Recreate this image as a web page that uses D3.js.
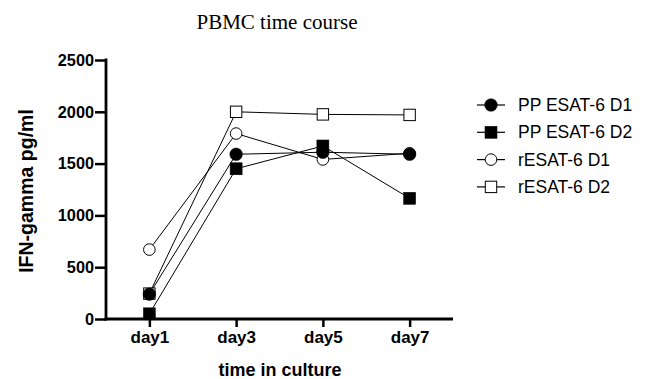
<!DOCTYPE html>
<html><head><meta charset="utf-8">
<script src="https://cdn.jsdelivr.net/npm/d3@7"></script>
<style>body{margin:0;background:#fff}svg{display:block}</style>
</head><body>
<svg id="c" width="654" height="379"></svg>
<script>
const days = ["day1","day3","day5","day7"];
const yTicks = [0,500,1000,1500,2000,2500];
const seriesNames = ["PP ESAT-6 D1","PP ESAT-6 D2","rESAT-6 D1","rESAT-6 D2"];
const ppD1 = [240,1590,1610,1590];
const ppD2 = [50,1450,1670,1165];
const rD1 = [670,1790,1540,1600];
const rD2 = [245,2000,1975,1970];

const series = [
  {name: seriesNames[0], values: ppD1, shape: "circle", fill: "#000"},
  {name: seriesNames[1], values: ppD2, shape: "square", fill: "#000"},
  {name: seriesNames[2], values: rD1, shape: "circle", fill: "#fff"},
  {name: seriesNames[3], values: rD2, shape: "square", fill: "#fff"}
];

const svg = d3.select("#c");
const x = d3.scalePoint().domain(days).range([106,453]).padding(0.5);
const y = d3.scaleLinear().domain([0,2500]).range([319,60]);

svg.append("text").attr("x",277).attr("y",29).attr("text-anchor","middle")
  .attr("font-family","Liberation Serif, Times New Roman, serif").attr("font-size",21)
  .text("PBMC time course");

// lines
const line = d3.line().x((d,i)=>x(days[i])).y(d=>y(d));
series.forEach(s=>{
  svg.append("path").attr("d", line(s.values)).attr("fill","none")
    .attr("stroke","#000").attr("stroke-width",1);
});

function marker(g, shape, fill, cx, cy){
  const filled = fill==="#000";
  if(shape==="circle"){
    g.append("circle").attr("cx",cx).attr("cy",cy).attr("r",filled?6.3:5.8)
      .attr("fill",fill).attr("stroke","#000").attr("stroke-width",filled?0.5:1);
  } else {
    const h = filled?6:5.7;
    g.append("rect").attr("x",cx-h).attr("y",cy-h).attr("width",2*h).attr("height",2*h)
      .attr("fill",fill).attr("stroke","#000").attr("stroke-width",filled?0.5:1);
  }
}
const mk = svg.append("g");
// open markers first, filled markers drawn on top
[3,2,1,0].forEach(k=>{
  const s = series[k];
  s.values.forEach((v,i)=>marker(mk, s.shape, s.fill, x(days[i]), y(v)));
});

// axes
const gy = svg.append("g").attr("transform","translate(106,0)")
  .call(d3.axisLeft(y).tickValues(yTicks).tickSize(11).tickPadding(1).tickFormat(d3.format("d")));
const gx = svg.append("g").attr("transform","translate(0,319)")
  .call(d3.axisBottom(x).tickSize(8).tickPadding(4));
[gy,gx].forEach(g=>{
  g.select(".domain").attr("stroke-width",2.8);
  g.selectAll(".tick line").attr("stroke-width",2.5);
  g.selectAll("text").attr("font-family","Liberation Sans, Arial, sans-serif")
    .attr("font-weight","bold").attr("fill","#000");
});
gy.selectAll("text").attr("font-size",16.3);
gx.selectAll("text").attr("font-size",17);
gy.select(".domain").attr("d","M0,320.4V58.6");
gx.select(".domain").attr("d","M104.6,0H453");

svg.append("text").attr("transform","translate(33,191) rotate(-90)").attr("text-anchor","middle")
  .attr("font-family","Liberation Sans, Arial, sans-serif").attr("font-weight","bold").attr("font-size",19.5)
  .text("IFN-gamma pg/ml");
svg.append("text").attr("x",280).attr("y",376).attr("text-anchor","middle")
  .attr("font-family","Liberation Sans, Arial, sans-serif").attr("font-weight","bold").attr("font-size",18)
  .text("time in culture");

// legend
const lg = svg.append("g");
series.forEach((s,i)=>{
  const yy = 105 + i*27.3;
  lg.append("line").attr("x1",477).attr("x2",505).attr("y1",yy).attr("y2",yy).attr("stroke","#000").attr("stroke-width",1.2);
  marker(lg, s.shape, s.fill, 491, yy);
  lg.append("text").attr("x",518).attr("y",yy+6).attr("font-family","Liberation Sans, Arial, sans-serif")
    .attr("font-size",17.5).attr("fill","#000").text(s.name);
});
</script>
</body></html>
